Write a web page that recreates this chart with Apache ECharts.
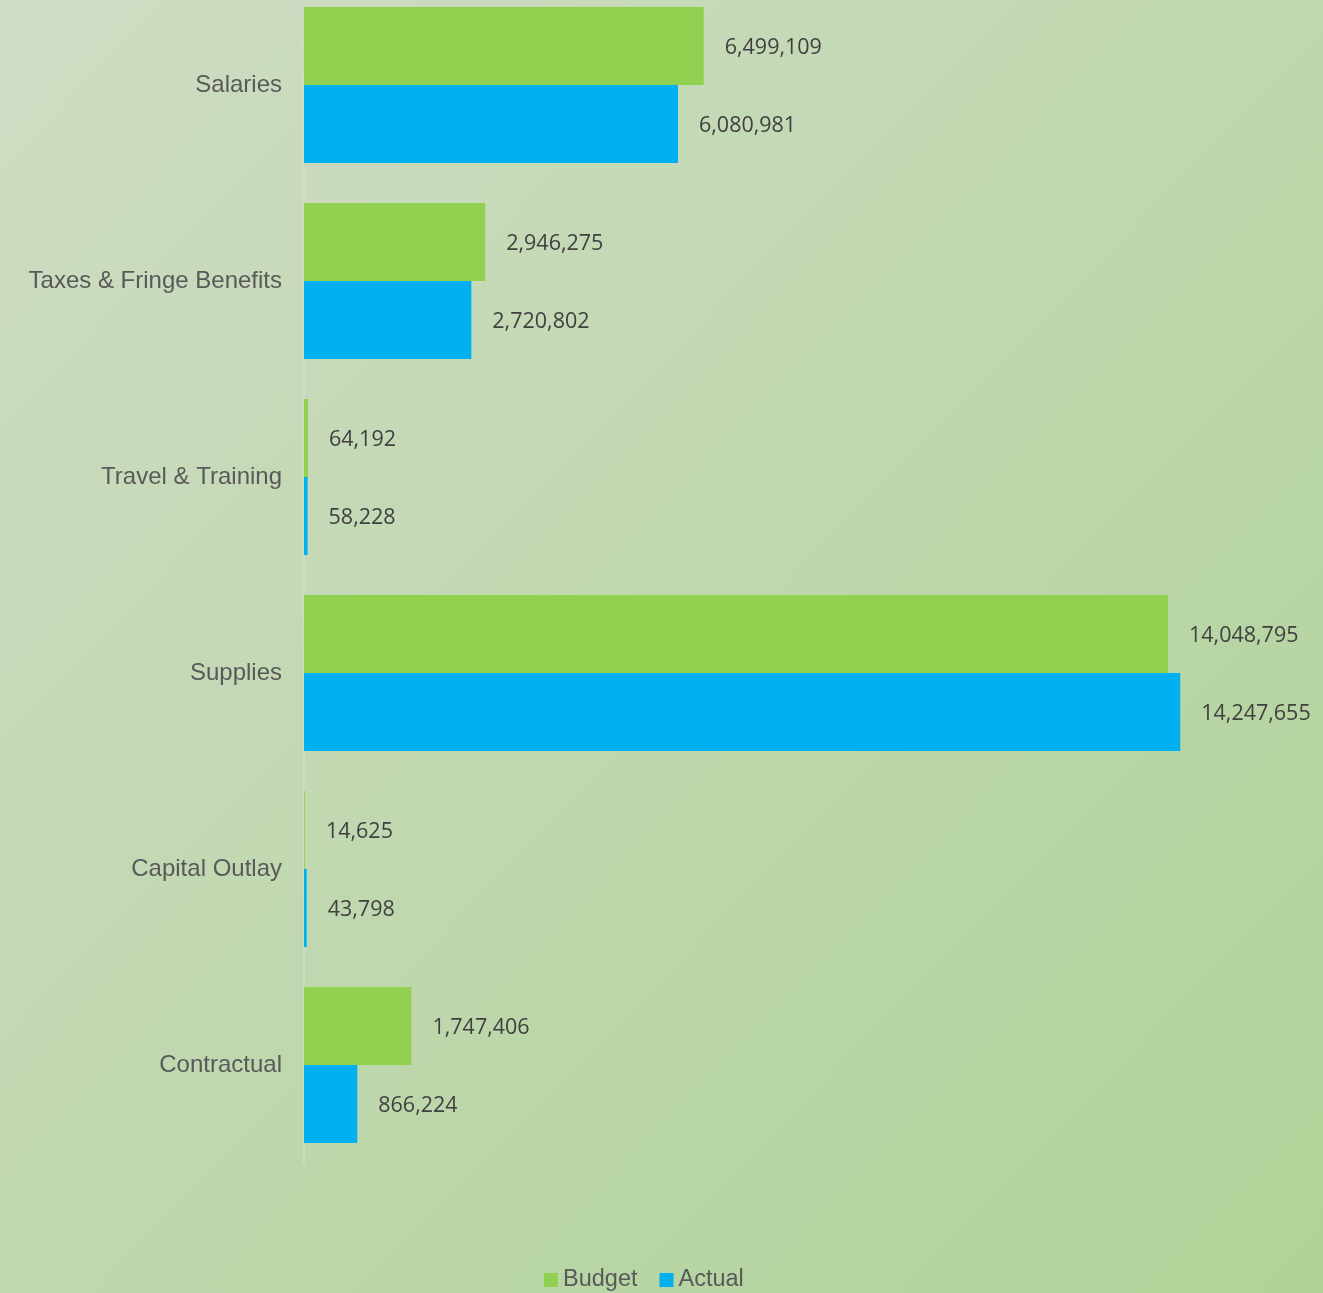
<!DOCTYPE html>
<html>
<head>
<meta charset="utf-8">
<script src="https://cdn.jsdelivr.net/npm/echarts@6/dist/echarts.min.js"></script>
<style>
  html, body { margin: 0; padding: 0; }
  #chart { width: 1323px; height: 1293px; }
</style>
</head>
<body>
<div id="chart"></div>
<script>
// categories, top to bottom
const categories = ["Salaries", "Taxes & Fringe Benefits", "Travel & Training", "Supplies", "Capital Outlay", "Contractual"];
const budget = [6499109, 2946275, 64192, 14048795, 14625, 1747406];
const actual = [6080981, 2720802, 58228, 14247655, 43798, 866224];

const chart = echarts.init(document.getElementById("chart"));

const valueLabel = {
  show: true,
  position: "right",
  distance: 21,
  offset: [0, 2],
  color: "#404040",
  fontFamily: "Open Sans",
  fontSize: 21.5,
  formatter: (p) => p.value.toLocaleString("en-US"),
};

chart.setOption({
  backgroundColor: new echarts.graphic.LinearGradient(0, 0, 1, 1, [
    { offset: 0, color: "#cfdcc4" },
    { offset: 1, color: "#afd398" },
  ]),
  animation: false,
  grid: { left: 304, right: 35, top: -13, bottom: 130, outerBoundsMode: "none", containLabel: false },
  legend: {
    top: 1268,
    left: 544,
    padding: 0,
    itemWidth: 14,
    itemHeight: 14,
    itemGap: 22,
    icon: "rect",
    textStyle: { color: "#595959", fontSize: 23.5, lineHeight: 24, fontFamily: "Liberation Sans" },
    data: ["Budget", "Actual"],
  },
  xAxis: {
    type: "value",
    min: 0,
    max: 16000000,
    show: false,
  },
  yAxis: {
    type: "category",
    data: categories,
    inverse: true,
    axisTick: { show: false },
    axisLine: { show: true, lineStyle: { color: "#d9d9d9", width: 1.5 } },
    axisLabel: {
      color: "#595959",
      fontSize: 24,
      fontFamily: "Liberation Sans",
      margin: 22,
    },
  },
  series: [
    {
      name: "Budget",
      type: "bar",
      data: budget,
      itemStyle: { color: "#92d050" },
      barGap: "0%",
      barCategoryGap: "20.4%",
      label: valueLabel,
    },
    {
      name: "Actual",
      type: "bar",
      data: actual,
      itemStyle: { color: "#00b0f0" },
      barGap: "0%",
      barCategoryGap: "20.4%",
      label: valueLabel,
    },
  ],
});
</script>
</body>
</html>
